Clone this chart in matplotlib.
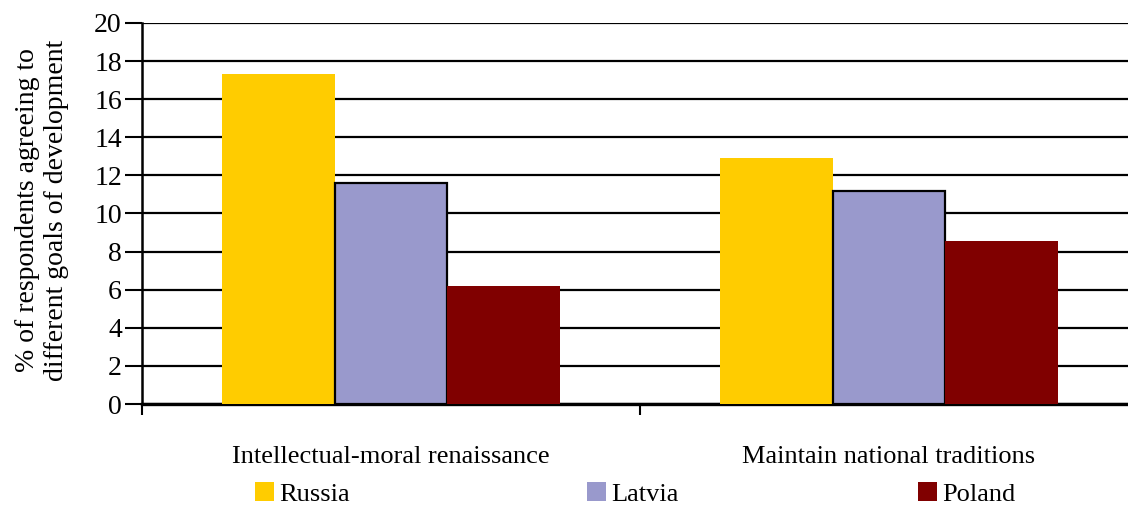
import matplotlib.pyplot as plt
import matplotlib.patches as mpatches
import numpy as np

categories = ["Intellectual-moral renaissance", "Maintain national traditions"]
countries = ["Russia", "Latvia", "Poland"]
russia = [17.3, 12.9]
latvia = [11.6, 11.2]
poland = [6.2, 8.55]
colors = ["#FFCC00", "#9999CC", "#800000"]

plt.rcParams["font.family"] = ["Liberation Serif", "DejaVu Serif"]
plt.rcParams["font.size"] = 19

fig = plt.figure(figsize=(11.28, 5.05), dpi=100)
ax = fig.add_axes([142 / 1128, 0.2, 996 / 1128, 0.7545])

x = np.arange(len(categories))
w = 0.226
series = [russia, latvia, poland]
edges = [None, "black", None]
for i, (name, vals) in enumerate(zip(countries, series)):
    kw = dict(edgecolor=edges[i], linewidth=1.6) if edges[i] else dict(linewidth=0)
    ax.bar(x + (i - 1) * w, vals, w, color=colors[i], label=name, zorder=3, **kw)

ax.set_xlim(-0.5, 1.5)
ax.set_ylim(0, 20)
ax.set_yticks(np.arange(0, 21, 2))
ax.yaxis.grid(True, color="black", linewidth=1.6, zorder=0)
ax.set_axisbelow(True)

ax.set_xticks([-0.5, 0.5, 1.5])
ax.set_xticklabels([])
ax.set_xticks(x, minor=True)
ax.set_xticklabels(categories, minor=True, fontsize=19)
ax.tick_params(axis="x", which="major", direction="out", length=8, width=1.5)
ax.tick_params(axis="x", which="minor", length=0, pad=30)
ax.tick_params(axis="y", direction="out", length=12, width=1.5, pad=2.5,
               labelsize=20)

for s in ["top", "right"]:
    ax.spines[s].set_visible(False)
ax.spines["left"].set_linewidth(1.8)
ax.spines["bottom"].set_linewidth(2.4)

fig.text(42 / 1128, 1 - 210 / 505,
         "% of respondents agreeing to\ndifferent goals of development",
         rotation=90, ha="center", va="center", multialignment="center",
         linespacing=1.25, fontsize=20)

# legend entries sit at fixed spots along the bottom
legend_x = [255, 587, 918]
for name, c, lx in zip(countries, colors, legend_x):
    h = mpatches.Patch(facecolor=c, edgecolor="none", label=name)
    fig.legend(handles=[h], loc="center left",
               bbox_to_anchor=(lx / 1128, 1 - 494 / 505),
               frameon=False, borderpad=0, borderaxespad=0,
               handlelength=0.72, handleheight=0.72, handletextpad=0.2)

fig.savefig("out.png", dpi=100)
